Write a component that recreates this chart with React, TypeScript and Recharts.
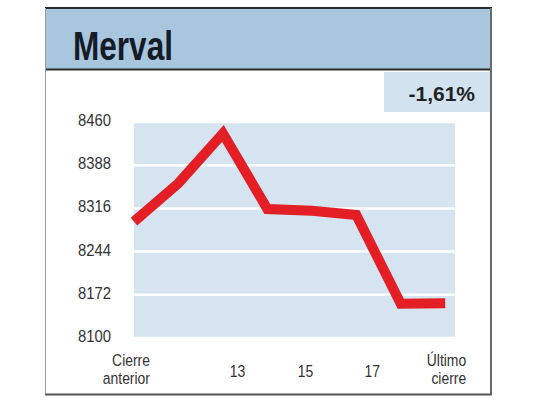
import React from "react";
import { LineChart, Line, XAxis, YAxis, CartesianGrid } from "recharts";

const pointIndex = [0, 1, 2, 3, 4, 5, 6, 7];
const mervalValues = [8294, 8358, 8441, 8315, 8312, 8305, 8157, 8158];
const yTicks = [8100, 8172, 8244, 8316, 8388, 8460];
const xTickValues = [0, 2.33, 3.86, 5.36, 7];
const xTickLabels = ["Cierre\nanterior", "13", "15", "17", "Último\ncierre"];
const title = "Merval";
const changeLabel = "-1,61%";

const data = pointIndex.map((i) => ({ x: i, value: mervalValues[i] }));

const FONT = '"Liberation Sans", Arial, sans-serif';
const TEXT = "#333333";

const XTick = (props: any) => {
  const { x, y, payload, index } = props;
  const pos = xTickValues.indexOf(payload.value);
  const label = xTickLabels[pos >= 0 ? pos : index] || "";
  const lines = label.split("\n");
  if (lines.length > 1) {
    const dx = pos === 0 ? 16 : 21;
    return (
      <g transform={`translate(${x + dx},${y}) scale(0.82,1)`}>
        <text x={0} y={0} textAnchor="end" fill={TEXT} fontSize={17} fontFamily={FONT}>
          <tspan x={0} dy={20}>{lines[0]}</tspan>
          <tspan x={0} dy={18}>{lines[1]}</tspan>
        </text>
      </g>
    );
  }
  return (
    <g transform={`translate(${x},${y}) scale(0.82,1)`}>
      <text x={0} y={31} textAnchor="middle" fill={TEXT} fontSize={17} fontFamily={FONT}>
        {label}
      </text>
    </g>
  );
};

const YTick = (props: any) => {
  const { x, y, payload } = props;
  return (
    <g transform={`translate(${x},${y}) scale(0.9,1)`}>
      <text x={0} y={4} textAnchor="end" fill={TEXT} fontSize={16.5} fontFamily={FONT}>
        {payload.value}
      </text>
    </g>
  );
};

export default function App() {
  return (
    <div style={{ position: "absolute", left: 0, top: 0, width: 540, height: 405, background: "#ffffff" }}>
      <svg width={540} height={405} style={{ position: "absolute", left: 0, top: 0 }}>
        <rect x={45} y={8} width={447} height={62} fill="#a9c6df" />
        <rect x={384} y={72} width={107} height={40} fill="#d3e2ef" />
        <line x1={45} y1={8} x2={492} y2={8} stroke="#2b2b2b" strokeWidth={2} />
        <line x1={45} y1={69.5} x2={492} y2={69.5} stroke="#2b2b2b" strokeWidth={2} />
        <line x1={45.5} y1={8} x2={45.5} y2={395} stroke="#9a9a9a" strokeWidth={1} />
        <line x1={491} y1={8} x2={491} y2={395} stroke="#6a6a6a" strokeWidth={2} />
        <line x1={45} y1={394.5} x2={492} y2={394.5} stroke="#555555" strokeWidth={2} />
        <text x={73} y={60} fontSize={41} fontWeight="bold" fill="#151c28" fontFamily={FONT} textLength={100} lengthAdjust="spacingAndGlyphs">
          {title}
        </text>
        <text x={475} y={101} textAnchor="end" fontSize={21} fontWeight="bold" fill="#222222" fontFamily={FONT}>
          {changeLabel}
        </text>
      </svg>
      <div style={{ position: "absolute", left: 0, top: 0 }}>
        <LineChart width={540} height={405} data={data} margin={{ top: 122, right: 85, bottom: 17, left: 74 }}>
          <CartesianGrid vertical={false} fill="#d5e4f0" stroke="#ffffff" strokeWidth={2.5} strokeOpacity={1} />
          <XAxis
            dataKey="x"
            type="number"
            domain={[0, 7.22]}
            ticks={xTickValues}
            interval={0}
            axisLine={false}
            tickLine={false}
            height={50}
            tick={<XTick />}
          />
          <YAxis
            domain={[8100, 8460]}
            ticks={yTicks}
            interval={0}
            axisLine={false}
            tickLine={false}
            tickSize={0}
            tickMargin={23}
            width={60}
            tick={<YTick />}
          />
          <Line
            type="linear"
            dataKey="value"
            stroke="#e31e24"
            strokeWidth={10}
            dot={false}
            activeDot={false}
            isAnimationActive={false}
          />
        </LineChart>
      </div>
    </div>
  );
}
